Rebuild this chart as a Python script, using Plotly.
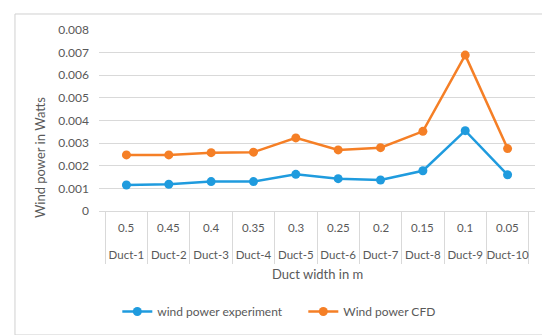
import plotly.graph_objects as go

ducts = ["Duct-1", "Duct-2", "Duct-3", "Duct-4", "Duct-5", "Duct-6", "Duct-7", "Duct-8", "Duct-9", "Duct-10"]
widths = ["0.5", "0.45", "0.4", "0.35", "0.3", "0.25", "0.2", "0.15", "0.1", "0.05"]
experiment = [0.00115, 0.00118, 0.00130, 0.00130, 0.00162, 0.00143, 0.00137, 0.00178, 0.00355, 0.00160]
cfd = [0.00248, 0.00248, 0.00258, 0.00260, 0.00323, 0.00270, 0.00280, 0.00352, 0.00689, 0.00276]
y_ticks = [0, 0.001, 0.002, 0.003, 0.004, 0.005, 0.006, 0.007, 0.008]
y_tick_text = ["0", "0.001", "0.002", "0.003", "0.004", "0.005", "0.006", "0.007", "0.008"]

font_family = "Lato, Open Sans, sans-serif"
grey = "#595959"
line_grey = "#D9D9D9"
xfs = 11.5

fig = go.Figure()
fig.add_trace(go.Scatter(
    x=ducts, y=experiment, name="wind power experiment",
    mode="lines+markers", line=dict(color="#1F9BDE", width=2.5),
    marker=dict(size=9, color="#1F9BDE")))
fig.add_trace(go.Scatter(
    x=ducts, y=cfd, name="Wind power CFD",
    mode="lines+markers", line=dict(color="#F57F26", width=2.5),
    marker=dict(size=9, color="#F57F26")))

annotations = []
for d, w in zip(ducts, widths):
    annotations.append(dict(x=d, xref="x", y=-0.093, yref="paper", text=w, showarrow=False,
                            xanchor="center", yanchor="middle", font=dict(size=xfs, color=grey)))
annotations.append(dict(x=0.5, xref="paper", y=-0.348, yref="paper", text="Duct width in m",
                        showarrow=False, xanchor="center", yanchor="middle",
                        font=dict(size=13, color=grey)))
annotations.append(dict(x=-0.135, xref="paper", y=0.293, yref="paper", text="Wind power in Watts",
                        showarrow=False, xanchor="center", yanchor="middle", textangle=-90,
                        font=dict(size=13, color=grey)))

fig.update_layout(
    width=550, height=335,
    margin=dict(l=91, r=23, t=22, b=132),
    paper_bgcolor="white", plot_bgcolor="white",
    font=dict(family=font_family, size=12, color=grey),
    showlegend=True,
    legend=dict(orientation="h", x=0.042, xanchor="left", y=-0.555, yanchor="middle",
                font=dict(size=12, color=grey), itemwidth=30,
                entrywidth=141, entrywidthmode="pixels"),
    xaxis=dict(type="category", categoryorder="array", categoryarray=ducts,
               tickvals=ducts, ticktext=ducts, tickangle=0,
               showgrid=False, showline=True, linecolor=line_grey, linewidth=1,
               ticks="outside", tickson="boundaries", ticklen=52, tickcolor=line_grey, tickwidth=1,
               ticklabelstandoff=33,
               tickfont=dict(size=xfs, color=grey)),
    yaxis=dict(range=[0, 0.008], tickvals=y_ticks, ticktext=y_tick_text,
               showgrid=True, gridcolor=line_grey, gridwidth=1, zeroline=False,
               tickfont=dict(size=12, color=grey), ticks="", ticklabelstandoff=9),
    annotations=annotations,
    shapes=[dict(type="rect", xref="paper", yref="paper", x0=-0.1927, x1=1.0367, y0=-0.685, y1=1.0884,
                 line=dict(color="#D0D0D0", width=1), fillcolor="rgba(0,0,0,0)", layer="above")],
)

fig.write_html("out.html")
